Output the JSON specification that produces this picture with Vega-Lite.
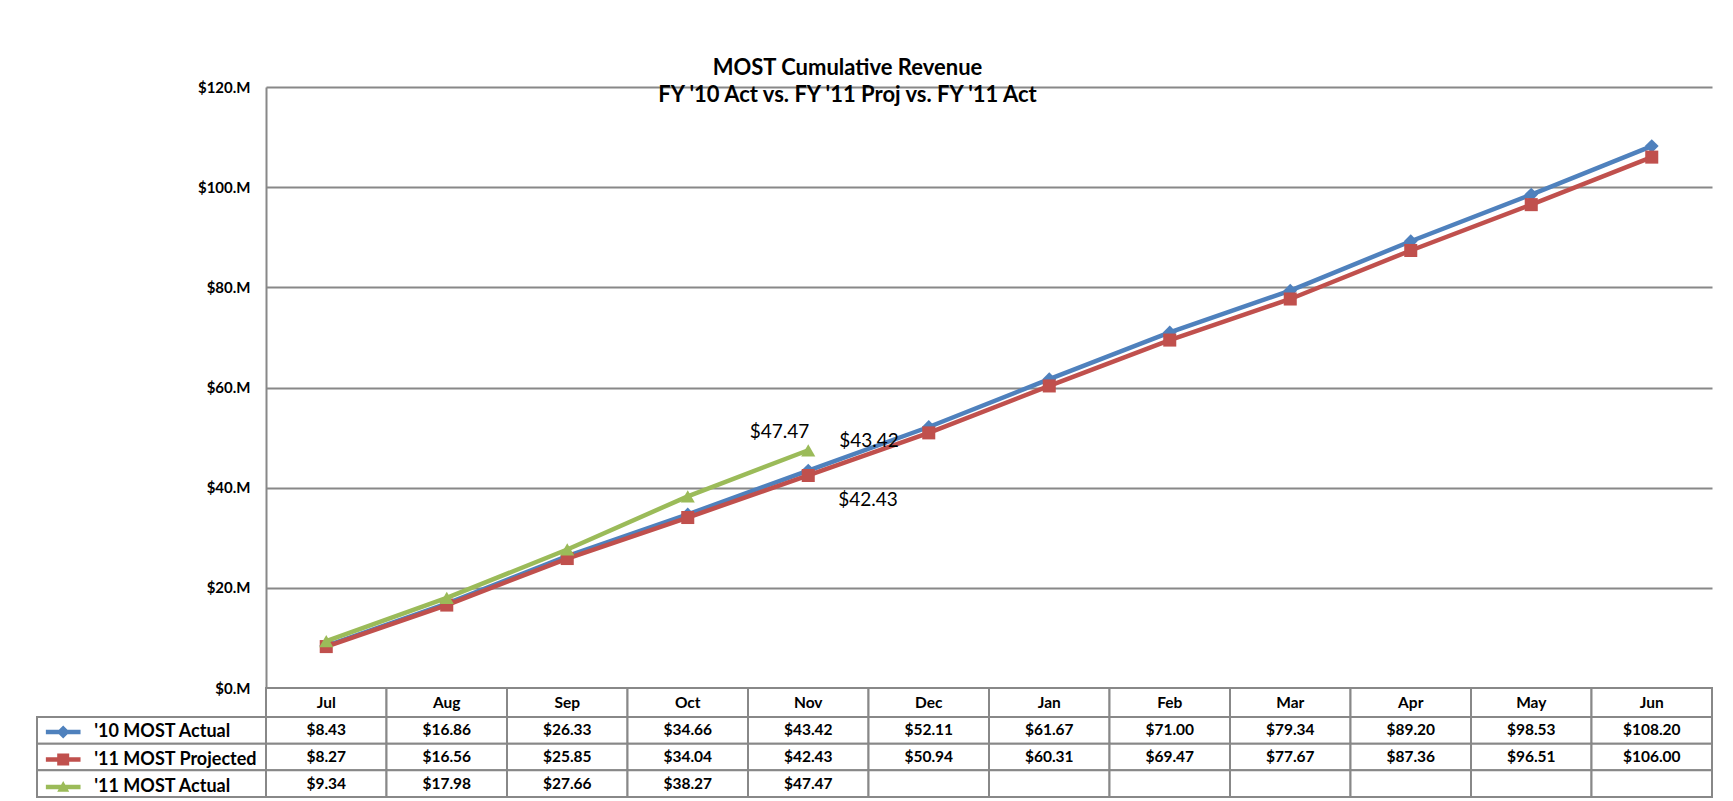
{
  "$schema": "https://vega.github.io/schema/vega-lite/v6.json",
  "background": "white",
  "padding": {"left": 36, "top": 57, "right": 5, "bottom": 3},
  "title": {
    "text": "MOST Cumulative Revenue",
    "subtitle": "FY '10 Act vs. FY '11 Proj vs. FY '11 Act",
    "font": "Lato", "fontSize": 22, "fontWeight": "bold", "color": "black",
    "subtitleFont": "Lato", "subtitleFontSize": 22, "subtitleFontWeight": "bold", "subtitleColor": "black",
    "subtitlePadding": 5, "anchor": "middle", "dx": -27, "offset": -27
  },
  "datasets": {
    "rev": [
      {"month": "Jul", "series": "'10 MOST  Actual", "value": 8.43},
      {"month": "Aug", "series": "'10 MOST  Actual", "value": 16.86},
      {"month": "Sep", "series": "'10 MOST  Actual", "value": 26.33},
      {"month": "Oct", "series": "'10 MOST  Actual", "value": 34.66},
      {"month": "Nov", "series": "'10 MOST  Actual", "value": 43.42},
      {"month": "Dec", "series": "'10 MOST  Actual", "value": 52.11},
      {"month": "Jan", "series": "'10 MOST  Actual", "value": 61.67},
      {"month": "Feb", "series": "'10 MOST  Actual", "value": 71.00},
      {"month": "Mar", "series": "'10 MOST  Actual", "value": 79.34},
      {"month": "Apr", "series": "'10 MOST  Actual", "value": 89.20},
      {"month": "May", "series": "'10 MOST  Actual", "value": 98.53},
      {"month": "Jun", "series": "'10 MOST  Actual", "value": 108.20},
      {"month": "Jul", "series": "'11 MOST Projected", "value": 8.27},
      {"month": "Aug", "series": "'11 MOST Projected", "value": 16.56},
      {"month": "Sep", "series": "'11 MOST Projected", "value": 25.85},
      {"month": "Oct", "series": "'11 MOST Projected", "value": 34.04},
      {"month": "Nov", "series": "'11 MOST Projected", "value": 42.43},
      {"month": "Dec", "series": "'11 MOST Projected", "value": 50.94},
      {"month": "Jan", "series": "'11 MOST Projected", "value": 60.31},
      {"month": "Feb", "series": "'11 MOST Projected", "value": 69.47},
      {"month": "Mar", "series": "'11 MOST Projected", "value": 77.67},
      {"month": "Apr", "series": "'11 MOST Projected", "value": 87.36},
      {"month": "May", "series": "'11 MOST Projected", "value": 96.51},
      {"month": "Jun", "series": "'11 MOST Projected", "value": 106.00},
      {"month": "Jul", "series": "'11 MOST  Actual", "value": 9.34},
      {"month": "Aug", "series": "'11 MOST  Actual", "value": 17.98},
      {"month": "Sep", "series": "'11 MOST  Actual", "value": 27.66},
      {"month": "Oct", "series": "'11 MOST  Actual", "value": 38.27},
      {"month": "Nov", "series": "'11 MOST  Actual", "value": 47.47},
      {"month": "Dec", "series": "'11 MOST  Actual", "value": null},
      {"month": "Jan", "series": "'11 MOST  Actual", "value": null},
      {"month": "Feb", "series": "'11 MOST  Actual", "value": null},
      {"month": "Mar", "series": "'11 MOST  Actual", "value": null},
      {"month": "Apr", "series": "'11 MOST  Actual", "value": null},
      {"month": "May", "series": "'11 MOST  Actual", "value": null},
      {"month": "Jun", "series": "'11 MOST  Actual", "value": null}
    ]
  },
  "columns": 2,
  "bounds": "flush",
  "spacing": 0,
  "resolve": {"scale": {"color": "independent", "shape": "independent"}, "legend": {"color": "independent", "shape": "independent"}},
  "concat": [
    {"width": 229, "height": 601, "data": {"values": []}, "mark": "rule", "encoding": {}},
    {
      "width": 1446, "height": 601,
      "data": {"name": "rev"},
      "encoding": {
        "x": {"field": "month", "type": "ordinal", "sort": ["Jul", "Aug", "Sep", "Oct", "Nov", "Dec", "Jan", "Feb", "Mar", "Apr", "May", "Jun"], "axis": null},
        "y": {
          "field": "value", "type": "quantitative",
          "scale": {"domain": [0, 120], "nice": false},
          "axis": {
            "title": null, "values": [0, 20, 40, 60, 80, 100, 120],
            "labelExpr": "'$' + datum.value + '.M'",
            "labelFont": "Lato", "labelFontWeight": "bold", "labelFontSize": 15, "labelColor": "black",
            "labelPadding": 16, "labelFlush": false,
            "ticks": false, "tickSize": 0,
            "domainColor": "#888888", "domainWidth": 2,
            "grid": true, "gridColor": "#888888", "gridWidth": 2
          }
        }
      },
      "layer": [
        {
          "transform": [{"filter": {"field": "series", "equal": "'10 MOST  Actual"}}],
          "mark": {"type": "line", "color": "#4F81BD", "strokeWidth": 4.5, "point": {"shape": "diamond", "size": 190, "filled": true, "color": "#4F81BD"}}
        },
        {
          "transform": [{"filter": {"field": "series", "equal": "'11 MOST Projected"}}],
          "mark": {"type": "line", "color": "#C0504D", "strokeWidth": 4.5, "point": {"shape": "square", "size": 170, "filled": true, "color": "#C0504D"}}
        },
        {
          "transform": [{"filter": {"field": "series", "equal": "'11 MOST  Actual"}}, {"filter": "isValid(datum.value)"}],
          "mark": {"type": "line", "color": "#9BBB59", "strokeWidth": 4.5, "point": {"shape": "triangle-up", "size": 200, "filled": true, "color": "#9BBB59"}}
        },
        {
          "transform": [{"filter": {"field": "series", "equal": "'11 MOST  Actual"}}, {"filter": {"field": "month", "equal": "Nov"}}],
          "mark": {"type": "text", "align": "right", "baseline": "middle", "dx": 1, "dy": -18, "font": "Lato", "fontSize": 19, "color": "black"},
          "encoding": {"text": {"field": "value", "type": "quantitative", "format": "$.2f"}}
        },
        {
          "transform": [{"filter": {"field": "series", "equal": "'10 MOST  Actual"}}, {"filter": {"field": "month", "equal": "Nov"}}],
          "mark": {"type": "text", "align": "left", "baseline": "middle", "dx": 31, "dy": -30, "font": "Lato", "fontSize": 19, "color": "black"},
          "encoding": {"text": {"field": "value", "type": "quantitative", "format": "$.2f"}}
        },
        {
          "transform": [{"filter": {"field": "series", "equal": "'11 MOST Projected"}}, {"filter": {"field": "month", "equal": "Nov"}}],
          "mark": {"type": "text", "align": "left", "baseline": "middle", "dx": 30, "dy": 25, "font": "Lato", "fontSize": 19, "color": "black"},
          "encoding": {"text": {"field": "value", "type": "quantitative", "format": "$.2f"}}
        }
      ]
    },
    {"width": 229, "height": 29, "data": {"values": []}, "mark": "rule", "encoding": {}},
    {
      "width": 1446, "height": 29,
      "data": {"name": "rev"},
      "transform": [{"filter": {"field": "series", "equal": "'10 MOST  Actual"}}],
      "encoding": {
        "x": {"field": "month", "type": "ordinal", "sort": ["Jul", "Aug", "Sep", "Oct", "Nov", "Dec", "Jan", "Feb", "Mar", "Apr", "May", "Jun"], "axis": null, "scale": {"type": "band", "paddingInner": 0, "paddingOuter": 0}}
      },
      "layer": [
        {"mark": {"type": "rect", "fill": "white", "stroke": "#888888", "strokeWidth": 2}},
        {"mark": {"type": "text", "font": "Lato", "fontWeight": "bold", "fontSize": 15.5, "color": "black", "baseline": "middle"}, "encoding": {"text": {"field": "month"}}}
      ]
    },
    {
      "width": 229, "height": 80,
      "data": {"name": "rev"},
      "transform": [{"filter": {"field": "month", "equal": "Jul"}}],
      "encoding": {
        "y": {"field": "series", "type": "nominal", "sort": ["'10 MOST  Actual", "'11 MOST Projected", "'11 MOST  Actual"], "axis": null, "scale": {"paddingInner": 0, "paddingOuter": 0}}
      },
      "layer": [
        {"mark": {"type": "rect", "fill": "white", "stroke": "#888888", "strokeWidth": 2}},
        {
          "mark": {"type": "point", "filled": true, "opacity": 0},
          "encoding": {
            "color": {
              "field": "series", "type": "nominal",
              "scale": {"domain": ["'10 MOST  Actual", "'11 MOST Projected", "'11 MOST  Actual"], "range": ["#4F81BD", "#C0504D", "#9BBB59"]},
              "legend": {"orient": "none", "legendX": 12.7, "legendY": 1.5, "title": null}
            },
            "shape": {
              "field": "series", "type": "nominal",
              "scale": {"domain": ["'10 MOST  Actual", "'11 MOST Projected", "'11 MOST  Actual"],
                "range": [
                  "M-1.3,-0.165L1.3,-0.165L1.3,0.165L-1.3,0.165Z M0,-0.49L0.49,0L0,0.49L-0.49,0Z",
                  "M-1.3,-0.165L1.3,-0.165L1.3,0.165L-1.3,0.165Z M-0.45,-0.45L0.45,-0.45L0.45,0.45L-0.45,0.45Z",
                  "M-1.3,-0.165L1.3,-0.165L1.3,0.165L-1.3,0.165Z M0,-0.45L0.45,0.35L-0.45,0.35Z"
                ]},
              "legend": {"orient": "none", "legendX": 12.7, "legendY": 1.5, "title": null}
            }
          }
        }
      ]
    },
    {
      "width": 1446, "height": 80,
      "data": {"name": "rev"},
      "encoding": {
        "x": {"field": "month", "type": "ordinal", "sort": ["Jul", "Aug", "Sep", "Oct", "Nov", "Dec", "Jan", "Feb", "Mar", "Apr", "May", "Jun"], "axis": null, "scale": {"type": "band", "paddingInner": 0, "paddingOuter": 0}},
        "y": {"field": "series", "type": "nominal", "sort": ["'10 MOST  Actual", "'11 MOST Projected", "'11 MOST  Actual"], "axis": null, "scale": {"paddingInner": 0, "paddingOuter": 0}}
      },
      "layer": [
        {"mark": {"type": "rect", "fill": "white", "stroke": "#888888", "strokeWidth": 2}},
        {
          "transform": [{"filter": "isValid(datum.value)"}],
          "mark": {"type": "text", "font": "Lato", "fontWeight": "bold", "fontSize": 15.5, "color": "black", "baseline": "middle"},
          "encoding": {"text": {"field": "value", "type": "quantitative", "format": "$.2f"}}
        }
      ]
    }
  ],
  "config": {
    "view": {"stroke": null},
    "legend": {
      "padding": 0, "rowPadding": 4.5, "symbolSize": 711, "symbolStrokeWidth": 0, "symbolOpacity": 1,
      "labelFont": "Lato", "labelFontWeight": "bold", "labelFontSize": 18, "labelColor": "black",
      "labelOffset": 17.6, "labelLimit": 300, "labelBaseline": "middle"
    }
  }
}
